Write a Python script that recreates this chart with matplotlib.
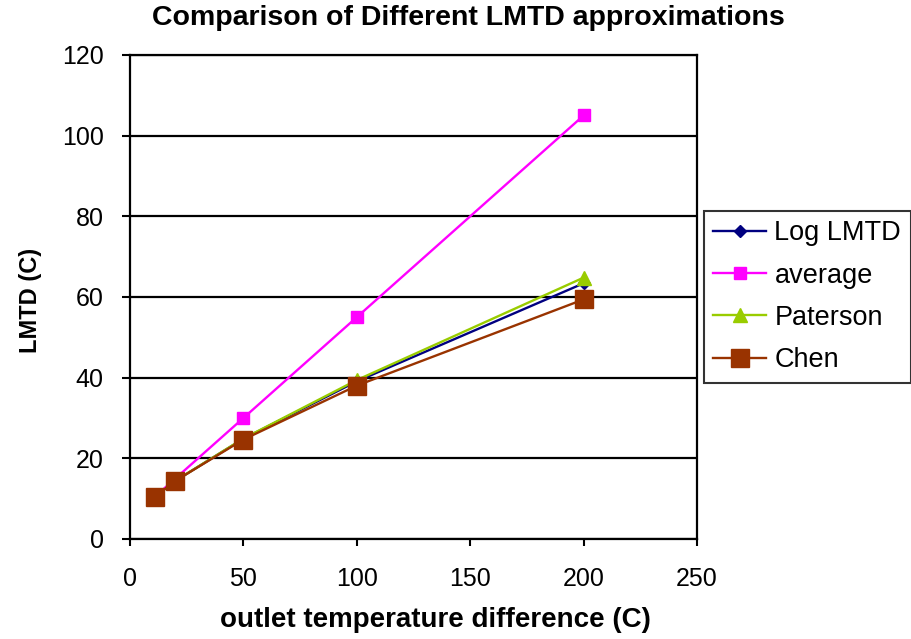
import matplotlib
matplotlib.use("Agg")
import matplotlib.pyplot as plt

x = [11, 20, 50, 100, 200]
log_lmtd = [10.49, 14.43, 24.85, 39.09, 63.4]
average = [10.5, 15.0, 30.0, 55.0, 105.0]
paterson = [10.49, 14.43, 24.91, 39.41, 64.8]
chen = [10.49, 14.42, 24.66, 38.03, 59.4]

xticks = [0, 50, 100, 150, 200, 250]
yticks = [0, 20, 40, 60, 80, 100, 120]

plt.rcParams['font.family'] = ['Liberation Sans', 'DejaVu Sans']

fig = plt.figure(figsize=(9.11, 6.39), dpi=100)
ax = fig.add_axes([130/911, 1-539/639, (697-130)/911, (539-55)/639])

ax.plot(x, log_lmtd, color='#000080', marker='D', markersize=6, lw=1.7, label='Log LMTD', zorder=3)
ax.plot(x, average, color='#FF00FF', marker='s', markersize=9, lw=1.7, label='average', zorder=4)
ax.plot(x, paterson, color='#99CC00', marker='^', markersize=10, lw=1.7, label='Paterson', zorder=3)
ax.plot(x, chen, color='#993300', marker='s', markersize=13.5, lw=1.7, label='Chen', zorder=5)

ax.set_xlim(0, 250)
ax.set_ylim(0, 120)
ax.set_xticks(xticks)
ax.set_yticks(yticks)
ax.yaxis.grid(True, color='black', lw=1.6)
ax.set_axisbelow(True)
for s in ax.spines.values():
    s.set_linewidth(1.6)
    s.set_color('black')
ax.tick_params(axis='y', labelsize=18, direction='out', length=6, width=1.5, pad=13)
ax.tick_params(axis='x', labelsize=18, direction='out', length=5, width=1.5, pad=15)

fig.text(468/911, 1-18/639, 'Comparison of Different LMTD approximations',
         ha='center', va='center', fontsize=20.5, fontweight='bold')
fig.text(435/911, 1-620/639, 'outlet temperature difference (C)',
         ha='center', va='center', fontsize=20, fontweight='bold')
fig.text(30/911, 1-300/639, 'LMTD (C)', ha='center', va='center',
         fontsize=17, fontweight='bold', rotation=90)

leg = ax.legend(loc='upper left', bbox_to_anchor=(704/911, 1-211/639),
                bbox_transform=fig.transFigure, fontsize=19.5, frameon=True,
                fancybox=False, edgecolor='black', handlelength=1.95,
                borderpad=0.35, labelspacing=0.6, handletextpad=0.3,
                borderaxespad=0)
leg.get_frame().set_linewidth(1.5)

fig.savefig('out.png', dpi=100)
